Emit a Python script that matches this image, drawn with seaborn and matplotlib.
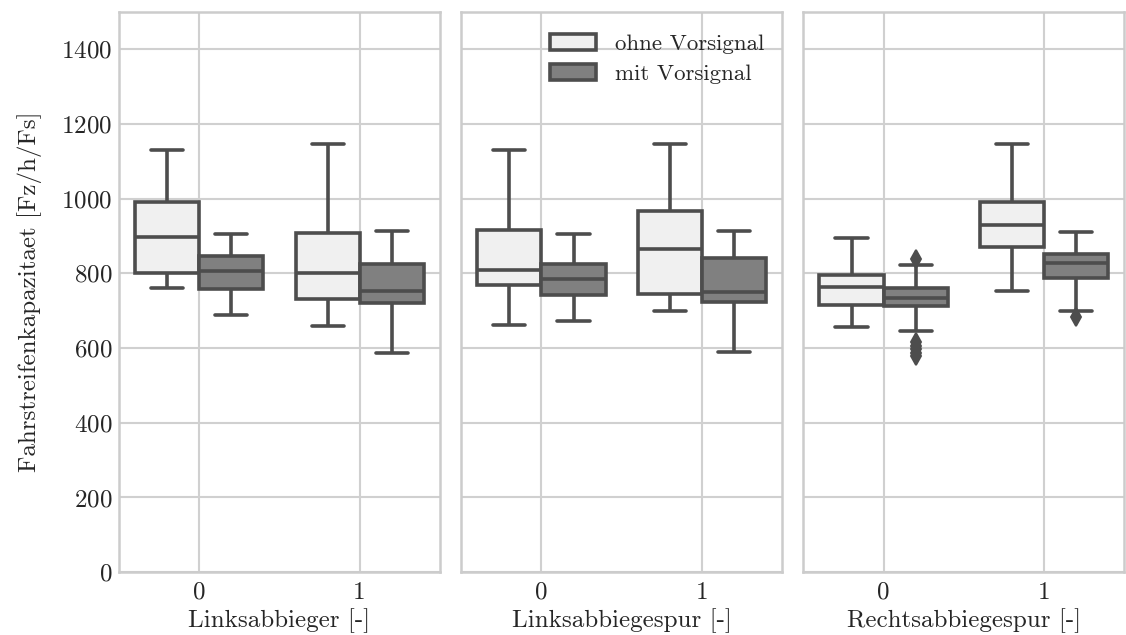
import numpy as np
import pandas as pd
import matplotlib
matplotlib.use("Agg")
import matplotlib.pyplot as plt
import seaborn as sns

# Panels (one explanatory variable each) and their levels
panels = ["Linksabbieger [-]", "Linksabbiegespur [-]", "Rechtsabbiegespur [-]"]
levels = ["0", "1"]
groups = ["ohne Vorsignal", "mit Vorsignal"]

# Box summaries per panel, ordered (level 0 ohne, level 0 mit, level 1 ohne, level 1 mit)
whis_lo = [[760, 690, 660, 588], [662, 672, 700, 590], [657, 646, 753, 699]]
q1      = [[802, 757, 731, 720], [768, 741, 745, 724], [716, 713, 870, 788]]
median  = [[897, 806, 801, 752], [808, 786, 866, 751], [763, 734, 929, 829]]
q3      = [[991, 847, 909, 824], [915, 826, 968, 840], [797, 761, 991, 852]]
whis_hi = [[1130, 905, 1146, 913], [1130, 906, 1146, 913], [895, 822, 1146, 912]]
fliers_lo = [[[], [], [], []], [[], [], [], []],
             [[], [617, 606, 597, 588, 579], [], [684]]]
fliers_hi = [[[], [], [], []], [[], [], [], []],
             [[], [838], [], []]]

colors = {"ohne Vorsignal": "#f0f0f0", "mit Vorsignal": "#808080"}
line_color = "#4d4d4d"
FS = 18
LEG_FS = 16.5


def expand(lo, a, m, b, hi, out_lo, out_hi):
    """Build a sample whose Tukey box statistics are exactly (lo, a, m, b, hi)."""
    s = max(len(out_lo), len(out_hi)) + 1
    low_side = list(out_lo) + [lo] * (s - len(out_lo))
    high_side = [hi] * (s - len(out_hi)) + list(out_hi)
    r = 2 * s + 1
    return low_side + [a] * r + [m] * r + [b] * r + high_side


rows = []
for p, panel in enumerate(panels):
    k = 0
    for lev in levels:
        for g in groups:
            vals = expand(whis_lo[p][k], q1[p][k], median[p][k], q3[p][k],
                          whis_hi[p][k], fliers_lo[p][k], fliers_hi[p][k])
            rows += [(panel, lev, g, v) for v in vals]
            k += 1
df = pd.DataFrame(rows, columns=["panel", "level", "Vorsignal", "capacity"])

sns.set_theme(style="whitegrid")
plt.rcParams["font.family"] = ["cmr10", "DejaVu Serif"]
plt.rcParams["axes.formatter.use_mathtext"] = True
plt.rcParams["axes.edgecolor"] = "#cccccc"
plt.rcParams["grid.color"] = "#d0d0d0"

fig, axes = plt.subplots(1, 3, figsize=(11.26, 6.35), dpi=100, sharey=True)
fig.subplots_adjust(left=0.106, right=0.998, top=0.981, bottom=0.099, wspace=0.068)

for ax, panel in zip(axes, panels):
    sub = df[df["panel"] == panel]
    sns.boxplot(data=sub, x="level", y="capacity", hue="Vorsignal",
                order=levels, hue_order=groups, palette=colors, saturation=1,
                linecolor=line_color, linewidth=2.6, width=0.8, ax=ax,
                flierprops=dict(marker="d", markerfacecolor=line_color,
                                markeredgecolor=line_color, markersize=9,
                                markeredgewidth=1.4))
    ax.set_xlabel(panel, fontsize=FS, labelpad=3)
    ax.set_ylabel("")
    ax.set_ylim(0, 1500)
    ax.set_xlim(-0.5, 1.5)
    ax.set_yticks(np.arange(0, 1401, 200))
    ax.tick_params(axis="y", labelsize=FS, length=0, pad=5)
    ax.tick_params(axis="x", labelsize=FS, length=0, pad=7)
    ax.grid(True, linewidth=1.5)
    for sp in ax.spines.values():
        sp.set_linewidth(1.8)
        sp.set_color("#cccccc")
    leg = ax.get_legend()
    if leg is not None:
        leg.remove()

axes[0].set_ylabel("Fahrstreifenkapazitaet [Fz/h/Fs]", fontsize=FS, labelpad=14)

handles, labels = axes[1].get_legend_handles_labels()
leg = axes[1].legend(handles, labels, loc="upper left", bbox_to_anchor=(0.212, 0.998),
                     frameon=False, fontsize=LEG_FS, handlelength=2.0,
                     handleheight=0.7, handletextpad=0.85, labelspacing=0.45)

fig.savefig("out.png", dpi=100)
